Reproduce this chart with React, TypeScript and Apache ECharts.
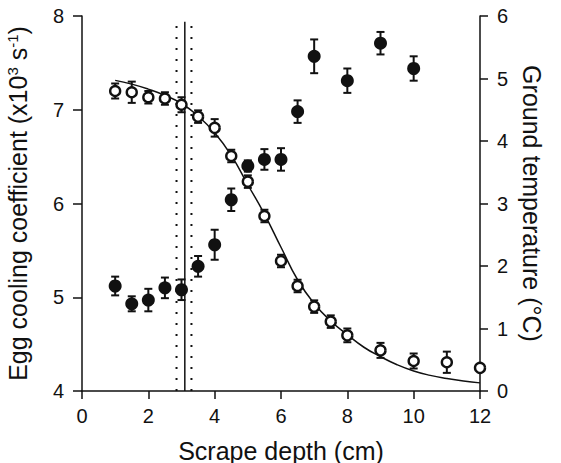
import React, { useEffect, useRef } from "react";
import * as echarts from "echarts";

// Egg cooling coefficient (filled circles, left axis): [depth, value, error]
const depthFilled = [1, 1.5, 2, 2.5, 3, 3.5, 4, 4.5, 5, 5.5, 6, 6.5, 7, 8, 9, 10];
const coolingValues = [5.12, 4.93, 4.97, 5.10, 5.08, 5.33, 5.56, 6.04, 6.40, 6.47, 6.47, 6.98, 7.57, 7.31, 7.71, 7.44];
const coolingErrors = [0.10, 0.08, 0.12, 0.11, 0.11, 0.11, 0.16, 0.12, 0.06, 0.11, 0.12, 0.12, 0.18, 0.13, 0.12, 0.13];

// Ground temperature (open circles, right axis)
const depthOpen = [1, 1.5, 2, 2.5, 3, 3.5, 4, 4.5, 5, 5.5, 6, 6.5, 7, 7.5, 8, 9, 10, 11, 12];
const tempValues = [4.80, 4.78, 4.70, 4.68, 4.58, 4.39, 4.21, 3.76, 3.35, 2.80, 2.08, 1.68, 1.35, 1.11, 0.89, 0.65, 0.48, 0.46, 0.37];
const tempErrors = [0.12, 0.17, 0.10, 0.10, 0.12, 0.10, 0.14, 0.10, 0.10, 0.10, 0.10, 0.10, 0.10, 0.10, 0.11, 0.12, 0.12, 0.17, 0];

// Fitted temperature curve (right axis)
const curveDepth = [1, 1.5, 2, 2.5, 3, 3.5, 4, 4.5, 5, 5.5, 6, 6.5, 7, 7.5, 8, 8.5, 9, 9.5, 10, 10.5, 11, 11.5, 12];
const curveTemp = [4.97, 4.91, 4.83, 4.73, 4.60, 4.40, 4.13, 3.77, 3.30, 2.83, 2.30, 1.78, 1.40, 1.12, 0.90, 0.70, 0.55, 0.42, 0.32, 0.25, 0.20, 0.16, 0.13];

// Vertical reference lines (depth), drawn on left axis range
const solidLineDepth = 3.1;
const dottedLineDepths = [2.85, 3.3];
const refLineRange = [4, 7.94];

const xTicks = { min: 0, max: 12, interval: 2 };
const leftTicks = { min: 4, max: 8, interval: 1 };
const rightTicks = { min: 0, max: 6, interval: 1 };

const INK = "#111111";
const FONT = "'Liberation Sans', Arial, Helvetica, sans-serif";

function errorBarRenderer(params: any, api: any) {
  const x = api.value(0);
  const y = api.value(1);
  const e = api.value(2);
  if (!e) return { type: "group", children: [] };
  const top = api.coord([x, y + e]);
  const bot = api.coord([x, y - e]);
  const hw = 4;
  const style = { stroke: INK, lineWidth: 2 };
  return {
    type: "group",
    children: [
      { type: "line", shape: { x1: top[0], y1: top[1], x2: bot[0], y2: bot[1] }, style },
      { type: "line", shape: { x1: top[0] - hw, y1: top[1], x2: top[0] + hw, y2: top[1] }, style },
      { type: "line", shape: { x1: bot[0] - hw, y1: bot[1], x2: bot[0] + hw, y2: bot[1] }, style },
    ],
  };
}

export default function App() {
  const ref = useRef<HTMLDivElement>(null);
  useEffect(() => {
    if (!ref.current) return;
    const chart = echarts.init(ref.current, null, { renderer: "svg" });
    const filledData = depthFilled.map((d, i) => [d, coolingValues[i], coolingErrors[i]]);
    const openData = depthOpen.map((d, i) => [d, tempValues[i], tempErrors[i]]);
    const curveData = curveDepth.map((d, i) => [d, curveTemp[i]]);

    const axisLine = { show: true, lineStyle: { color: INK, width: 1.5 } };
    const axisTick = { show: true, length: 8, lineStyle: { color: INK, width: 1.5 } };
    const axisLabel = { color: INK, fontSize: 20, fontFamily: FONT };

    chart.setOption({
      animation: false,
      backgroundColor: "#ffffff",
      grid: { left: 82, right: 81, top: 16, bottom: 72, containLabel: false, outerBoundsMode: "none" },
      xAxis: {
        type: "value",
        ...xTicks,
        name: "Scrape depth (cm)",
        nameLocation: "middle",
        nameGap: 47,
        nameTextStyle: { color: INK, fontSize: 25, fontFamily: FONT },
        axisLine,
        axisTick,
        axisLabel: { ...axisLabel, margin: 15 },
        splitLine: { show: false },
      },
      yAxis: [
        {
          type: "value",
          position: "left",
          ...leftTicks,
          name: "{n|Egg cooling coefficient (x10}{sup|3}{n| s}{sup|-1}{n|)}",
          nameLocation: "middle",
          nameGap: 52,
          nameRotate: 90,
          nameTextStyle: {
            color: INK,
            fontFamily: FONT,
            rich: {
              n: { fontSize: 25, fontFamily: FONT, color: INK },
              sup: { fontSize: 15, fontFamily: FONT, color: INK, verticalAlign: "top" },
            },
          },
          axisLine,
          axisTick: { ...axisTick, length: 9 },
          axisLabel: { ...axisLabel, margin: 18 },
          splitLine: { show: false },
        },
        {
          type: "value",
          position: "right",
          ...rightTicks,
          name: "Ground temperature (°C)",
          nameLocation: "middle",
          nameGap: 38,
          nameRotate: -90,
          nameTextStyle: { color: INK, fontSize: 25, fontFamily: FONT },
          axisLine,
          axisTick,
          axisLabel: { ...axisLabel, margin: 17 },
          splitLine: { show: false },
        },
      ],
      series: [
        {
          type: "line",
          yAxisIndex: 0,
          data: [[solidLineDepth, refLineRange[0]], [solidLineDepth, refLineRange[1]]],
          symbol: "none",
          lineStyle: { color: INK, width: 1.5 },
          z: 1,
          silent: true,
        },
        ...dottedLineDepths.map((d) => ({
          type: "line",
          yAxisIndex: 0,
          data: [[d, refLineRange[0]], [d, refLineRange[1]]],
          symbol: "none",
          lineStyle: { color: INK, width: 2, type: [2, 9] },
          z: 1,
          silent: true,
        })),
        {
          type: "line",
          yAxisIndex: 1,
          data: curveData,
          smooth: true,
          symbol: "none",
          lineStyle: { color: INK, width: 1.5 },
          z: 2,
        },
        {
          type: "custom",
          yAxisIndex: 0,
          data: filledData,
          renderItem: errorBarRenderer,
          encode: { x: 0, y: 1 },
          z: 3,
        },
        {
          type: "custom",
          yAxisIndex: 1,
          data: openData,
          renderItem: errorBarRenderer,
          encode: { x: 0, y: 1 },
          z: 3,
        },
        {
          type: "scatter",
          yAxisIndex: 0,
          data: filledData.map((p) => [p[0], p[1]]),
          symbol: "circle",
          symbolSize: 13,
          itemStyle: { color: INK, opacity: 1 },
          z: 4,
        },
        {
          type: "scatter",
          yAxisIndex: 1,
          data: openData.map((p) => [p[0], p[1]]),
          symbol: "circle",
          symbolSize: 10,
          itemStyle: { color: "#ffffff", borderColor: INK, borderWidth: 2.4, opacity: 1 },
          z: 4,
        },
      ],
    });
    return () => chart.dispose();
  }, []);
  return <div ref={ref} style={{ width: 561, height: 463, position: "absolute", left: 0, top: 0 }} />;
}
